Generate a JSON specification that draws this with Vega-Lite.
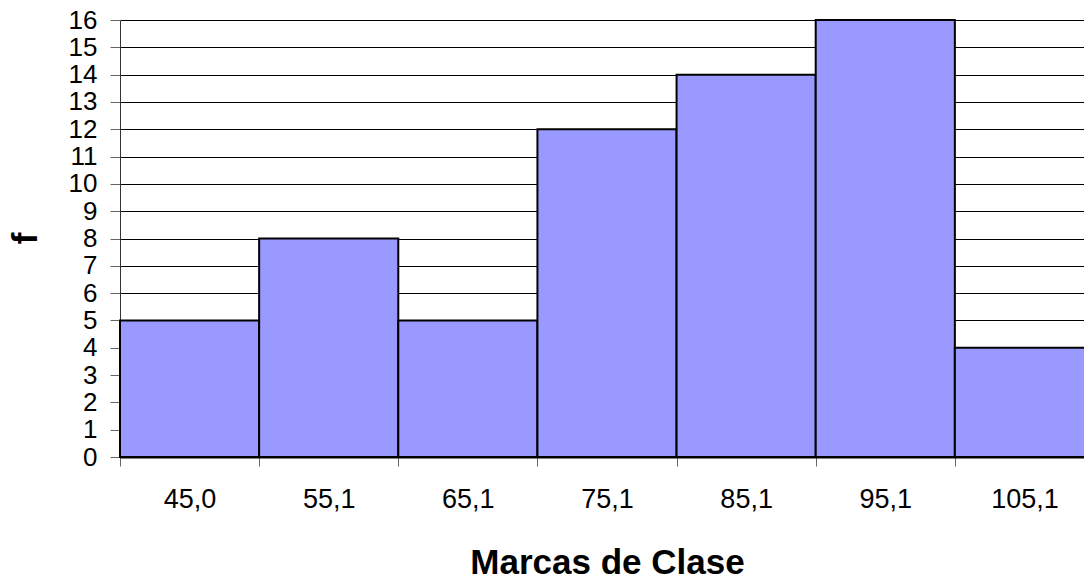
{
  "$schema": "https://vega.github.io/schema/vega-lite/v6.json",
  "width": 964,
  "height": 437,
  "autosize": {"type": "none"},
  "padding": {"left": 120, "top": 20, "right": 0, "bottom": 123},
  "background": "white",
  "config": {
    "view": {"stroke": null},
    "font": "Liberation Sans"
  },
  "data": {
    "values": [
      {"marca": "45,0", "f": 5},
      {"marca": "55,1", "f": 8},
      {"marca": "65,1", "f": 5},
      {"marca": "75,1", "f": 12},
      {"marca": "85,1", "f": 14},
      {"marca": "95,1", "f": 16},
      {"marca": "105,1", "f": 4}
    ]
  },
  "mark": {"type": "bar", "fill": "#9999FF", "stroke": "#000000", "strokeWidth": 2},
  "encoding": {
    "x": {
      "field": "marca",
      "type": "nominal",
      "sort": null,
      "scale": {"paddingInner": 0, "paddingOuter": 0, "range": [0, 974]},
      "axis": {
        "title": "Marcas de Clase",
        "labelAngle": 0,
        "labelFontSize": 27,
        "labelColor": "#000",
        "labelPadding": 20,
        "tickBand": "extent",
        "tickSize": 9,
        "tickColor": "#666",
        "domainColor": "#000",
        "domainWidth": 2,
        "titleFontSize": 35,
        "titleFontWeight": "bold",
        "titleColor": "#000",
        "titleBaseline": "alphabetic",
        "titleY": 116,
        "titleX": 487,
        "grid": false
      }
    },
    "y": {
      "field": "f",
      "type": "quantitative",
      "scale": {"domain": [0, 16], "nice": false},
      "axis": {
        "title": "f",
        "values": [0,1,2,3,4,5,6,7,8,9,10,11,12,13,14,15,16],
        "labelFontSize": 26,
        "labelColor": "#000",
        "labelPadding": 13,
        "tickSize": 10,
        "tickColor": "#666",
        "domainColor": "#333",
        "domainWidth": 1,
        "grid": true,
        "gridColor": "#000",
        "gridWidth": 1,
        "titleFontSize": 35,
        "titleFontWeight": "bold",
        "titleColor": "#000",
        "titleAngle": -90,
        "titleBaseline": "alphabetic",
        "titleX": -84,
        "titleY": 218
      }
    }
  }
}
